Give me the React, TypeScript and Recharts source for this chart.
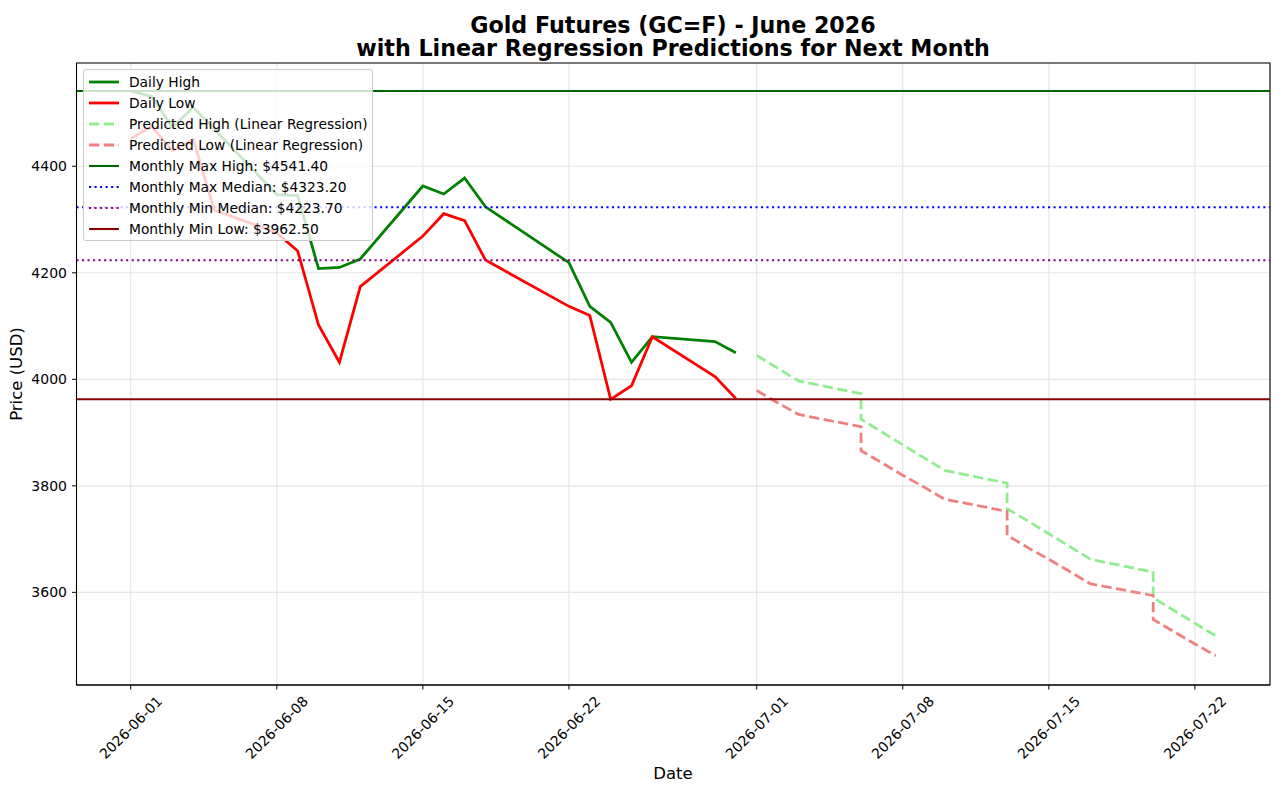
import { LineChart, Line, XAxis, YAxis, CartesianGrid, ReferenceLine, ReferenceArea } from 'recharts'

const FONT = '"DejaVu Sans", Verdana, sans-serif'

// June 2026 trading days (Juneteenth missing)
const histDates = [
  '2026-06-01', '2026-06-02', '2026-06-03', '2026-06-04', '2026-06-05',
  '2026-06-08', '2026-06-09', '2026-06-10', '2026-06-11', '2026-06-12',
  '2026-06-15', '2026-06-16', '2026-06-17', '2026-06-18',
  '2026-06-22', '2026-06-23', '2026-06-24', '2026-06-25', '2026-06-26',
  '2026-06-29', '2026-06-30',
]
const dailyHigh = [
  4541.4, 4531, 4473, 4511, 4470,
  4347, 4345, 4208, 4210, 4226,
  4363, 4348, 4378, 4324,
  4219, 4137, 4107, 4032, 4080,
  4071, 4050,
]
const dailyLow = [
  4452, 4475, 4429, 4450, 4318,
  4275, 4241, 4102, 4032, 4174,
  4269, 4311, 4298, 4224,
  4137, 4120, 3962.5, 3988, 4080,
  4005, 3964,
]

// predictions (weekend values land on the following Monday)
const predDates = [
  '2026-07-01', '2026-07-02', '2026-07-03', '2026-07-06', '2026-07-06', '2026-07-06',
  '2026-07-07', '2026-07-08', '2026-07-09', '2026-07-10', '2026-07-13', '2026-07-13',
  '2026-07-13', '2026-07-14', '2026-07-15', '2026-07-16', '2026-07-17', '2026-07-20',
  '2026-07-20', '2026-07-20', '2026-07-21', '2026-07-22', '2026-07-23',
]
const predHigh = [
  4045, 4021, 3997, 3973, 3949, 3925,
  3901, 3877, 3853, 3829, 3805, 3781,
  3757, 3734, 3710, 3686, 3662, 3638,
  3614, 3590, 3566, 3542, 3518,
]
const predLow = [
  3979, 3956, 3934, 3911, 3888, 3866,
  3843, 3820, 3798, 3775, 3752, 3730,
  3707, 3684, 3662, 3639, 3616, 3594,
  3571, 3549, 3526, 3503, 3481,
]

const maxHigh = 4541.4
const maxMedian = 4323.2
const minMedian = 4223.7
const minLow = 3962.5

const tickLabels = [
  '2026-06-01', '2026-06-08', '2026-06-15', '2026-06-22',
  '2026-07-01', '2026-07-08', '2026-07-15', '2026-07-22',
]
const yTicks = [3600, 3800, 4000, 4200, 4400]

const xDomain: [number, number] = [-2.6, 54.6]
const yDomain: [number, number] = [3426, 4594]

const DASHED = '10.3 4.45'
const DOTTED = '2.08 3.44'

const DAY = 86400000
const origin = Date.parse('2026-06-01')
const dayOf = (s: string) => (Date.parse(s) - origin) / DAY

const toPoints = (dates: string[], vals: number[]) =>
  dates.map((d, i) => ({ x: dayOf(d), v: vals[i] }))

const highData = toPoints(histDates, dailyHigh)
const lowData = toPoints(histDates, dailyLow)
const predHighData = toPoints(predDates, predHigh)
const predLowData = toPoints(predDates, predLow)
const tickDays = tickLabels.map(dayOf)

const legendItems = [
  { label: 'Daily High', color: 'green', dash: undefined, width: 2.78 },
  { label: 'Daily Low', color: 'red', dash: undefined, width: 2.78 },
  { label: 'Predicted High (Linear Regression)', color: '#90ee90', dash: DASHED, width: 2.78 },
  { label: 'Predicted Low (Linear Regression)', color: '#f08080', dash: DASHED, width: 2.78 },
  { label: `Monthly Max High: $${maxHigh.toFixed(2)}`, color: '#006400', dash: undefined, width: 2.08 },
  { label: `Monthly Max Median: $${maxMedian.toFixed(2)}`, color: 'blue', dash: DOTTED, width: 2.08 },
  { label: `Monthly Min Median: $${minMedian.toFixed(2)}`, color: 'purple', dash: DOTTED, width: 2.08 },
  { label: `Monthly Min Low: $${minLow.toFixed(2)}`, color: '#8b0000', dash: undefined, width: 2.08 },
]

function DateTick(props: any) {
  const { x, y, payload } = props
  const label = tickLabels[tickDays.indexOf(payload.value)]
  const cy = y + 34
  return (
    <text
      x={x}
      y={cy}
      textAnchor="middle"
      dominantBaseline="central"
      transform={`rotate(-45 ${x} ${cy})`}
      fontSize={14}
      fill="#000"
      fontFamily={FONT}
    >
      {label}
    </text>
  )
}

export default function App() {
  return (
    <div style={{ position: 'absolute', left: 0, top: 0, width: 1284, height: 800, background: '#fff', fontFamily: FONT }}>
      <LineChart width={1284} height={800} margin={{ top: 63, right: 14, bottom: 0, left: 0 }}>
        <CartesianGrid xAxisId="main" yAxisId="main" stroke="#e4e4e4" strokeWidth={1.1} />
        <XAxis
          xAxisId="main"
          dataKey="x"
          type="number"
          domain={xDomain}
          ticks={tickDays}
          tick={<DateTick />}
          height={115}
          tickSize={4.5}
          tickMargin={4}
          stroke="#000"
          allowDataOverflow
        />
        <YAxis
          yAxisId="main"
          type="number"
          domain={yDomain}
          ticks={yTicks}
          width={76.5}
          tickSize={4.5}
          tickMargin={5}
          stroke="#000"
          tick={{ fill: '#000', fontSize: 14, fontFamily: FONT }}
          allowDataOverflow
        />
        <Line xAxisId="main" yAxisId="main" data={highData} dataKey="v" type="linear" stroke="green" strokeWidth={2.78} dot={false} isAnimationActive={false} />
        <Line xAxisId="main" yAxisId="main" data={lowData} dataKey="v" type="linear" stroke="red" strokeWidth={2.78} dot={false} isAnimationActive={false} />
        <Line xAxisId="main" yAxisId="main" data={predHighData} dataKey="v" type="linear" stroke="#90ee90" strokeWidth={2.78} strokeDasharray={DASHED} dot={false} isAnimationActive={false} />
        <Line xAxisId="main" yAxisId="main" data={predLowData} dataKey="v" type="linear" stroke="#f08080" strokeWidth={2.78} strokeDasharray={DASHED} dot={false} isAnimationActive={false} />
        <ReferenceLine xAxisId="main" yAxisId="main" y={maxHigh} stroke="#006400" strokeWidth={2.08} />
        <ReferenceLine xAxisId="main" yAxisId="main" y={maxMedian} stroke="blue" strokeWidth={2.08} strokeDasharray={DOTTED} />
        <ReferenceLine xAxisId="main" yAxisId="main" y={minMedian} stroke="purple" strokeWidth={2.08} strokeDasharray={DOTTED} />
        <ReferenceLine xAxisId="main" yAxisId="main" y={minLow} stroke="#8b0000" strokeWidth={2.08} />
        {/* plot frame */}
        <ReferenceArea
          xAxisId="main"
          yAxisId="main"
          x1={xDomain[0]}
          x2={xDomain[1]}
          y1={yDomain[0]}
          y2={yDomain[1]}
          fill="none"
          fillOpacity={0}
          stroke="#000"
          strokeWidth={1.1}
          strokeOpacity={1}
        />
      </LineChart>

      {/* title */}
      <div style={{ position: 'absolute', left: 76, width: 1194, top: 13.5, textAlign: 'center', fontSize: 22.2, fontWeight: 'bold', lineHeight: '22px', whiteSpace: 'nowrap' }}>
        Gold Futures (GC=F) - June 2026
      </div>
      <div style={{ position: 'absolute', left: 76, width: 1194, top: 37, textAlign: 'center', fontSize: 22.2, fontWeight: 'bold', lineHeight: '22px', whiteSpace: 'nowrap' }}>
        with Linear Regression Predictions for Next Month
      </div>

      {/* axis labels */}
      <div style={{ position: 'absolute', left: 76, width: 1194, top: 764, textAlign: 'center', fontSize: 16.5 }}>Date</div>
      <div
        style={{
          position: 'absolute', left: 16, top: 374, fontSize: 16.5, whiteSpace: 'nowrap',
          transform: 'translate(-50%, -50%) rotate(-90deg)',
        }}
      >
        Price (USD)
      </div>

      {/* legend */}
      <div
        style={{
          position: 'absolute', left: 83, top: 69, width: 290, height: 172,
          background: 'rgba(255,255,255,0.8)', border: '1px solid #cccccc', borderRadius: 3,
          boxSizing: 'border-box', paddingTop: 2,
        }}
      >
        {legendItems.map((it) => (
          <div key={it.label} style={{ display: 'flex', alignItems: 'center', height: 20.9, fontSize: 13.8 }}>
            <svg width={41} height={10} style={{ marginLeft: 4, flex: 'none' }}>
              <line x1={1} y1={5} x2={31} y2={5} stroke={it.color} strokeWidth={it.width} strokeDasharray={it.dash} />
            </svg>
            <span style={{ whiteSpace: 'nowrap' }}>{it.label}</span>
          </div>
        ))}
      </div>
    </div>
  )
}
